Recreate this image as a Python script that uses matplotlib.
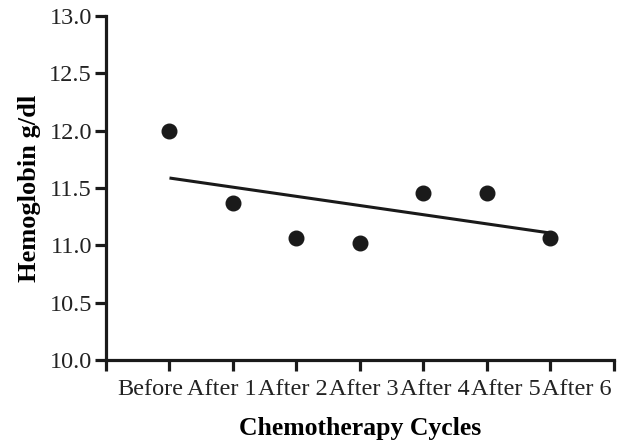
import matplotlib
matplotlib.use("Agg")
import matplotlib.pyplot as plt
import numpy as np

categories = ["Before", "After 1", "After 2", "After 3", "After 4", "After 5", "After 6"]
hemoglobin = [12.00, 11.37, 11.06, 11.02, 11.46, 11.46, 11.06]

plt.rcParams['font.family'] = ['Liberation Serif', 'DejaVu Serif']

fig = plt.figure(figsize=(6.29, 4.42), dpi=100)
ax = fig.add_axes([0.1685, 0.1855, 0.8075, 0.7783])

x = np.arange(len(categories))
ax.plot(x, hemoglobin, 'o', color='#1a1a1a', markersize=10.5, clip_on=False, zorder=3)
slope, intercept = np.polyfit(x, hemoglobin, 1)
ax.plot([x[0], x[-1]], [intercept + slope * x[0], intercept + slope * x[-1]],
        color='#1a1a1a', lw=2.2, solid_capstyle='butt')

ax.set_xlim(-1, 7)
ax.set_ylim(10, 13)
ax.set_xticks(np.arange(-1, 8))
ax.set_xticklabels([])
# category labels are spread slightly wider than the tick marks in the reference
label_pos = -0.3 + 1.12 * x
ax.set_xticks(label_pos, minor=True)
ax.set_xticklabels(categories, minor=True)
ax.tick_params(axis='x', which='minor', length=0, labelsize=17.5, labelcolor='#222222', pad=14)

ax.set_yticks(np.arange(10, 13.01, 0.5))
ax.set_yticklabels([f"{v:.1f}" for v in np.arange(10, 13.01, 0.5)])

for s in ['top', 'right']:
    ax.spines[s].set_visible(False)
for s in ['left', 'bottom']:
    ax.spines[s].set_linewidth(2.3)
    ax.spines[s].set_color('#1a1a1a')
ax.tick_params(axis='both', which='major', direction='out', length=8, width=2.3, color='#1a1a1a',
               labelsize=17.5, labelcolor='#222222')
ax.tick_params(axis='y', pad=2)

ax.set_xlabel("Chemotherapy Cycles", fontsize=18.5, fontweight='bold', labelpad=12)
ax.set_ylabel("Hemoglobin g/dl", fontsize=19, fontweight='bold', labelpad=6)

fig.savefig("out.png", dpi=100)
